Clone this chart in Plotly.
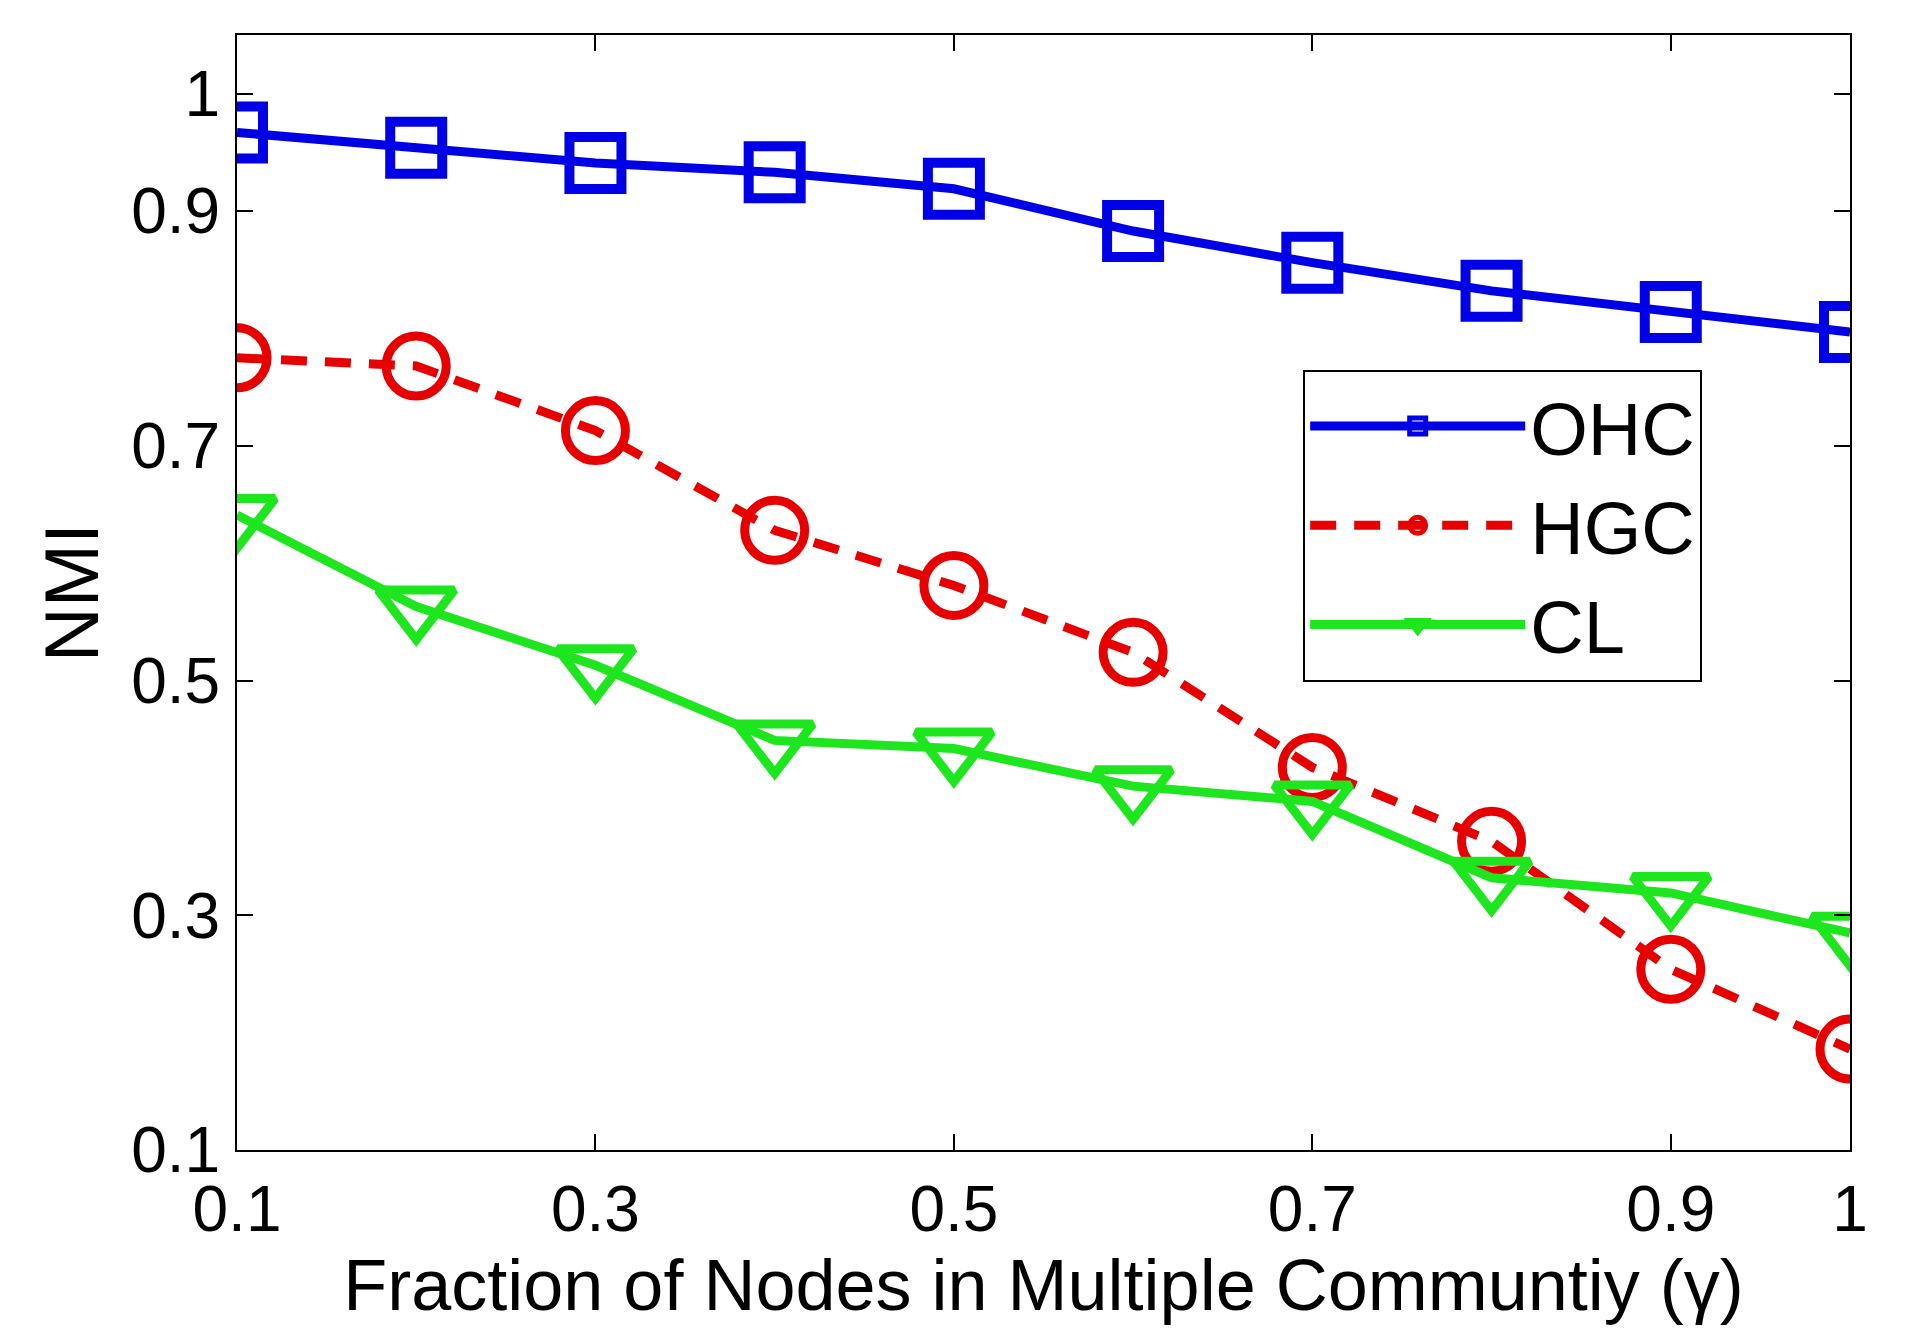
import plotly.graph_objects as go

x_vals = [0.1, 0.2, 0.3, 0.4, 0.5, 0.6, 0.7, 0.8, 0.9, 1.0]
ohc = [0.967, 0.954, 0.941, 0.933, 0.919, 0.883, 0.856, 0.832, 0.814, 0.797]
hgc = [0.775, 0.768, 0.713, 0.628, 0.581, 0.524, 0.426, 0.363, 0.254, 0.186]
cl = [0.641, 0.563, 0.513, 0.449, 0.442, 0.410, 0.397, 0.332, 0.319, 0.285]

x_ticks = [0.1, 0.3, 0.5, 0.7, 0.9, 1.0]
x_tick_labels = ["0.1", "0.3", "0.5", "0.7", "0.9", "1"]
y_ticks = [0.1, 0.3, 0.5, 0.7, 0.9, 1.0]
y_tick_labels = ["0.1", "0.3", "0.5", "0.7", "0.9", "1"]

FONT = "Liberation Sans, Arial, sans-serif"

fig = go.Figure()
fig.add_trace(go.Scatter(
    x=x_vals, y=ohc, name="OHC", mode="lines+markers",
    line=dict(color="#0000E6", width=9),
    marker=dict(symbol="square-open", size=52, color="#0000E6", line=dict(width=10, color="#0000E6")),
))
fig.add_trace(go.Scatter(
    x=x_vals, y=hgc, name="HGC", mode="lines+markers",
    line=dict(color="#E60000", width=9, dash="26px,18px"),
    marker=dict(symbol="circle-open", size=60, color="#E60000", line=dict(width=9, color="#E60000")),
))
fig.add_trace(go.Scatter(
    x=x_vals, y=cl, name="CL", mode="lines+markers",
    line=dict(color="#1EE61E", width=9),
    marker=dict(symbol="triangle-down-open", size=66, color="#1EE61E", line=dict(width=9, color="#1EE61E")),
))

axis_common = dict(
    showline=True, linecolor="black", linewidth=2, mirror="ticks",
    ticks="inside", ticklen=16, tickwidth=1.5, tickcolor="black",
    showgrid=False, zeroline=False,
    tickfont=dict(family=FONT, size=64, color="black"),
)

fig.update_xaxes(
    range=[0.1, 1.0], tickmode="array", tickvals=x_ticks, ticktext=x_tick_labels,
    ticklabelstandoff=2,
    title=dict(text="Fraction of Nodes in Multiple Communtiy (\u03b3)",
               font=dict(family=FONT, size=72, color="black"), standoff=2),
    **axis_common,
)
fig.update_yaxes(
    range=[0.1, 1.05], tickmode="array", tickvals=y_ticks, ticktext=y_tick_labels,
    ticklabelstandoff=2,
    title=dict(text="NMI", font=dict(family=FONT, size=76, color="black"), standoff=8),
    **axis_common,
)

fig.update_layout(
    width=1911, height=1334,
    margin=dict(l=229, r=69, t=27, b=192),
    paper_bgcolor="white", plot_bgcolor="white",
    showlegend=True,
    legend=dict(
        x=0.661, y=0.70, xanchor="left", yanchor="top",
        bgcolor="white", bordercolor="black", borderwidth=2,
        font=dict(family=FONT, size=74, color="black"),
        itemsizing="trace", itemwidth=215,
        tracegroupgap=0,
    ),
)

fig.write_html("out.html")
